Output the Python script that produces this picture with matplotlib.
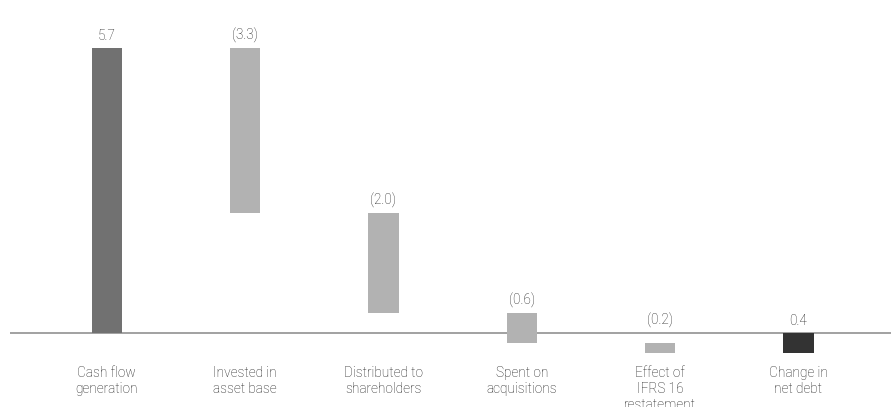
import matplotlib
matplotlib.use('Agg')
import matplotlib.pyplot as plt
import numpy as np

## NET DEBT BRIDGE DATA
categories = ['Cash flow\ngeneration', 'Invested in\nasset base', 'Distributed to\nshareholders',
              'Spent on\nacquisitions', 'Effect of\nIFRS 16\nrestatement', 'Change in\nnet debt']
steps      = [ 5.7, -3.3, -2.0, -0.6, -0.2 ]
total      = -0.4
value_text = ['5.7', '(3.3)', '(2.0)', '(0.6)', '(0.2)', '0.4']
colors     = ['#717171', '#b2b2b2', '#b2b2b2', '#b2b2b2', '#b2b2b2', '#333333']

plt.rcParams['font.family'] = ['Roboto', 'DejaVu Sans']

# floating bars: each step starts where the previous one ended
ends = np.cumsum(steps)
starts = ends - np.array(steps)
bottoms = list(np.minimum(starts, ends)) + [min(0, total)]
heights = list(np.abs(steps)) + [abs(total)]
tops = [b + h for b, h in zip(bottoms, heights)]

fig = plt.figure(figsize=(8.91, 4.07), dpi=100)
ax = fig.add_axes([10/891, 0, 881/891, 1])

x = np.arange(len(categories))
ax.bar(x, heights, bottom=bottoms, width=0.22, color=colors, linewidth=0)
ax.axhline(0, color='#9a9a9a', linewidth=1.3, zorder=0)

# value labels sit above the bar, or above the zero line for bars below it
for xi, top, txt in zip(x, tops, value_text):
    ax.text(xi, max(top, 0) + 0.1, txt, ha='center', va='bottom',
            fontsize=9.8, fontweight='light', color='#1e1e1e')

for xi, cat in zip(x, categories):
    ax.text(xi, -0.66, cat, ha='center', va='top', fontsize=9.8,
            fontweight='light', color='#1e1e1e', linespacing=1.18)

ax.set_xlim(-0.70, 5.67)
ax.set_ylim(-1.48, 6.66)
ax.axis('off')

fig.savefig('out.png', dpi=100)
